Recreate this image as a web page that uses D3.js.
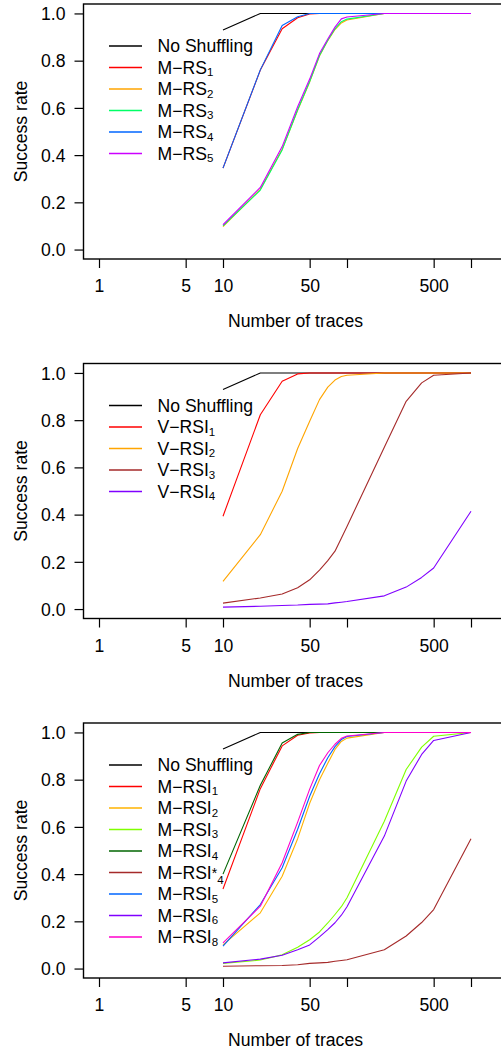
<!DOCTYPE html>
<html><head><meta charset="utf-8">
<script src="https://cdn.jsdelivr.net/npm/d3@7"></script>
<style>
body{margin:0;background:#fff}
svg{display:block}
text{font-family:"Liberation Sans",Arial,Helvetica,sans-serif;fill:#000}
</style>
</head><body>
<svg id="chart" width="501" height="1053"></svg>
<script>
// ---------------- data ----------------
const traces = [10,20,30,40,50,60,70,80,90,100,200,300,400,500,1000];
const xTickValues = [1,5,10,50,100,500,1000];
const xTickLabels = ["1","5","10","50","","500",""];
const yTickValues = [0,0.2,0.4,0.6,0.8,1.0];
const yTickLabels = ["0.0","0.2","0.4","0.6","0.8","1.0"];
const xTitle = "Number of traces";
const yTitle = "Success rate";

const noShuffling = [0.93,1,1,1,1,1,1,1,1,1,1,1,1,1,1];

// panel 1
const p1Labels = ["No Shuffling","M−RS_1","M−RS_2","M−RS_3","M−RS_4","M−RS_5"];
const p1Colors = ["#000000","#FF0000","#FFA500","#00FF66","#0066FF","#CC00FF"];
const mRS1 = [0.345,0.760,0.935,0.982,0.998,1,1,1,1,1,1,1,1,1,1];
const mRS2 = [0.097,0.255,0.425,0.590,0.710,0.820,0.885,0.932,0.960,0.972,1,1,1,1,1];
const mRS3 = [0.100,0.252,0.422,0.592,0.712,0.822,0.887,0.935,0.965,0.976,1,1,1,1,1];
const mRS4 = [0.345,0.761,0.949,0.986,1,1,1,1,1,1,1,1,1,1,1];
const mRS5 = [0.105,0.263,0.436,0.605,0.722,0.830,0.892,0.942,0.977,0.985,1,1,1,1,1];

// panel 2
const p2Labels = ["No Shuffling","V−RSI_1","V−RSI_2","V−RSI_3","V−RSI_4"];
const p2Colors = ["#000000","#FF0000","#FFA500","#A52A2A","#8000FF"];
const vRSI1 = [0.393,0.823,0.965,0.996,1,1,1,1,1,1,1,1,1,1,1];
const vRSI2 = [0.117,0.315,0.499,0.680,0.795,0.887,0.940,0.970,0.985,0.990,1,1,1,1,1];
const vRSI3 = [0.025,0.047,0.064,0.090,0.124,0.165,0.205,0.245,0.300,0.350,0.685,0.880,0.958,0.990,1];
const vRSI4 = [0.008,0.012,0.015,0.017,0.020,0.021,0.022,0.026,0.029,0.032,0.056,0.093,0.134,0.174,0.414];

// panel 3
const p3Labels = ["No Shuffling","M−RSI_1","M−RSI_2","M−RSI_3","M−RSI_4","M−RSI^*_4","M−RSI_5","M−RSI_6","M−RSI_8"];
const p3Colors = ["#000000","#FF0000","#FFB300","#80FF00","#006400","#A52A2A","#0066FF","#8000FF","#FF00CC"];
const mRSI1 = [0.337,0.762,0.943,0.988,0.998,1,1,1,1,1,1,1,1,1,1];
const mRSI2 = [0.100,0.236,0.391,0.550,0.700,0.800,0.870,0.928,0.962,0.976,1,1,1,1,1];
const mRSI3 = [0.022,0.036,0.058,0.090,0.122,0.155,0.193,0.229,0.262,0.300,0.624,0.843,0.938,0.984,1];
const mRSI4 = [0.400,0.776,0.955,0.992,1,1,1,1,1,1,1,1,1,1,1];
const mRSI4s = [0.010,0.012,0.013,0.016,0.022,0.024,0.026,0.031,0.034,0.037,0.080,0.138,0.195,0.250,0.550];
const mRSI5 = [0.095,0.271,0.427,0.590,0.730,0.825,0.893,0.940,0.970,0.983,1,1,1,1,1];
const mRSI6 = [0.024,0.040,0.056,0.080,0.100,0.134,0.165,0.194,0.226,0.262,0.561,0.794,0.907,0.966,1];
const mRSI8 = [0.109,0.264,0.448,0.620,0.760,0.860,0.914,0.950,0.975,0.985,1,1,1,1,1];

const panels = [
  {labels:p1Labels, colors:p1Colors, series:[noShuffling,mRS1,mRS2,mRS3,mRS4,mRS5]},
  {labels:p2Labels, colors:p2Colors, series:[noShuffling,vRSI1,vRSI2,vRSI3,vRSI4]},
  {labels:p3Labels, colors:p3Colors, series:[noShuffling,mRSI1,mRSI2,mRSI3,mRSI4,mRSI4s,mRSI5,mRSI6,mRSI8]}
];

// ---------------- layout ----------------
const svg = d3.select("#chart");
const FS = 17.6;
const panelTops = [4, 363.5, 723];
const boxLeft = 83.5, boxH = 255;

const x = d3.scaleLog().domain([1,1000]).range([99,471]);

function addLabel(sel, label){
  const m = label.match(/^([^_^]*)(?:\^([^_]*))?(?:_(.*))?$/);
  sel.append("tspan").text(m[1]);
  if (m[2]) sel.append("tspan").attr("font-size",14).attr("dy",-1).text(m[2]);
  if (m[3]) sel.append("tspan").attr("font-size",11.5).attr("dy", m[2] ? 6 : 2.5).text(m[3]);
}

panels.forEach((p, pi) => {
  const top = panelTops[pi];
  const g = svg.append("g");
  const y = d3.scaleLinear().domain([-0.04,1.04]).range([top+boxH, top]);

  // axes
  const xa = g.append("g").attr("transform",`translate(0,${top+boxH})`)
    .call(d3.axisBottom(x).tickValues(xTickValues).tickFormat((d,i)=>xTickLabels[i]).tickSize(9).tickSizeOuter(0));
  xa.select(".domain").remove();
  xa.selectAll("line").attr("stroke","#000").attr("stroke-width",1.2);
  xa.selectAll("text").attr("y",33).attr("dy",null).attr("font-size",FS).attr("font-family",null).attr("fill","#000");

  const ya = g.append("g").attr("transform",`translate(${boxLeft},0)`)
    .call(d3.axisLeft(y).tickValues(yTickValues).tickFormat((d,i)=>yTickLabels[i]).tickSize(9).tickPadding(9).tickSizeOuter(0));
  ya.select(".domain").remove();
  ya.selectAll("line").attr("stroke","#000").attr("stroke-width",1.2);
  ya.selectAll("text").attr("font-size",FS).attr("font-family",null).attr("fill","#000").attr("dy","0.35em");

  // box
  g.append("rect").attr("x",boxLeft).attr("y",top).attr("width",520).attr("height",boxH)
    .attr("fill","none").attr("stroke","#000").attr("stroke-width",1.4);

  // lines
  const line = d3.line().x((d,i)=>x(traces[i])).y(d=>y(d));
  p.series.forEach((s, si) => {
    g.append("path").datum(s).attr("d",line).attr("fill","none")
      .attr("stroke",p.colors[si]).attr("stroke-width",1.1).attr("stroke-linejoin","round");
  });

  // legend
  const lg = g.append("g");
  p.labels.forEach((lab, li) => {
    const ly = top + 42 + li*21.5;
    lg.append("line").attr("x1",109).attr("x2",142).attr("y1",ly).attr("y2",ly)
      .attr("stroke",p.colors[li]).attr("stroke-width",1.5);
    const t = lg.append("text").attr("x",157.5).attr("y",ly+6).attr("font-size",FS);
    addLabel(t, lab);
  });

  // titles
  g.append("text").attr("x",295.5).attr("y",top+323).attr("text-anchor","middle").attr("font-size",FS).text(xTitle);
  g.append("text").attr("transform",`translate(26.5,${top+boxH/2}) rotate(-90)`).attr("text-anchor","middle").attr("font-size",FS).text(yTitle);
});
</script>
</body></html>
